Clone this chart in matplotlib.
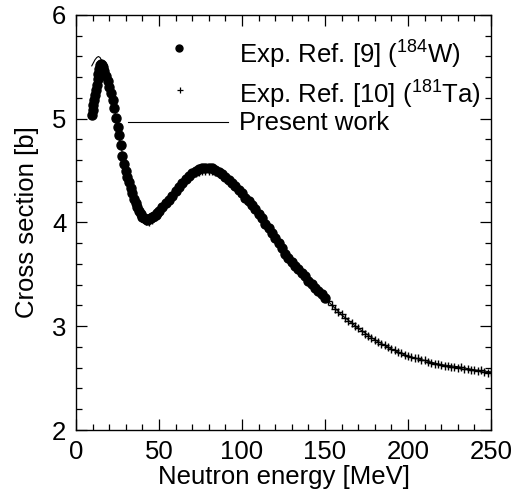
import matplotlib
matplotlib.use("Agg")
import matplotlib.pyplot as plt
from matplotlib.ticker import MultipleLocator

plt.rcParams['font.family'] = ['Liberation Sans', 'DejaVu Sans']
plt.rcParams['mathtext.fontset'] = 'custom'
plt.rcParams['mathtext.rm'] = 'Liberation Sans'

# Exp. Ref. [9] (184W)
w_energy = [9.5, 10, 10.5, 11, 11.5, 12, 12.5, 13, 13.5, 14, 14.5, 15, 15.5, 16,
            17, 18, 19, 20, 21, 22, 23, 24, 25, 26, 27, 28, 29, 30, 31, 32, 33, 34,
            35, 36, 37, 38, 39, 40, 41, 42, 43, 44, 45, 46, 47, 48, 49, 50,
            52, 54, 56, 58, 60, 62, 64, 66, 68, 70, 72, 74, 76, 78, 80, 82, 84, 86,
            88, 90, 92, 94, 96, 98, 100, 102, 104, 106, 108, 110, 112, 114, 116,
            118, 120, 122, 124, 126, 128, 130, 132, 134, 136, 138, 140, 142, 144,
            146, 148, 150]
w_xs = [5.04, 5.08, 5.13, 5.18, 5.23, 5.28, 5.33, 5.38, 5.43, 5.48, 5.52, 5.53, 5.52, 5.50,
        5.46, 5.41, 5.36, 5.31, 5.25, 5.18, 5.10, 5.01, 4.92, 4.84, 4.75, 4.64, 4.56, 4.50,
        4.44, 4.39, 4.33, 4.28, 4.23, 4.19, 4.15, 4.11, 4.08, 4.05, 4.04, 4.03, 4.02, 4.03,
        4.04, 4.05, 4.06, 4.07, 4.09, 4.11,
        4.15, 4.19, 4.22, 4.26, 4.30, 4.34, 4.38, 4.42, 4.45, 4.48, 4.50, 4.52, 4.525, 4.53,
        4.53, 4.525, 4.51, 4.49, 4.47, 4.44, 4.41, 4.38, 4.35, 4.31, 4.28, 4.24, 4.21, 4.17,
        4.13, 4.08, 4.04, 3.99, 3.95, 3.90, 3.85, 3.80, 3.75, 3.70, 3.66, 3.62, 3.58, 3.55,
        3.51, 3.48, 3.44, 3.41, 3.37, 3.34, 3.31, 3.27]

# Exp. Ref. [10] (181Ta)
ta_energy = list(range(20, 252, 2))
ta_xs = [5.30, 5.16, 4.99, 4.82, 4.63, 4.49, 4.38, 4.27, 4.18, 4.10, 4.04, 4.01, 4.00,
         4.02, 4.05, 4.09, 4.13, 4.17, 4.21, 4.24, 4.28, 4.32, 4.36, 4.40, 4.43, 4.46,
         4.48, 4.49, 4.50, 4.50, 4.50, 4.50, 4.49, 4.47, 4.45, 4.42, 4.39, 4.36, 4.33,
         4.29, 4.26, 4.22, 4.19, 4.15, 4.11, 4.07, 4.02, 3.98, 3.93, 3.88, 3.84, 3.79,
         3.74, 3.69, 3.65, 3.61, 3.57, 3.54, 3.50, 3.47, 3.43, 3.40, 3.36, 3.33, 3.30,
         3.27, 3.24, 3.20, 3.17, 3.14, 3.12, 3.08, 3.05, 3.03, 3.00, 2.98, 2.95, 2.93,
         2.91, 2.89, 2.87, 2.85, 2.83, 2.82, 2.80, 2.78, 2.77, 2.75, 2.74, 2.72, 2.71,
         2.70, 2.69, 2.69, 2.67, 2.67, 2.66, 2.65, 2.64, 2.64, 2.63, 2.62, 2.62, 2.61,
         2.61, 2.60, 2.61, 2.59, 2.59, 2.58, 2.58, 2.57, 2.58, 2.56, 2.55, 2.56]

# Present work
calc_energy = [9.5, 10.5, 11.5, 12.5, 13.5, 14.5, 15.5, 17, 20, 22.5, 25, 27.5, 30, 32.5,
               35, 37.5, 40, 42.5, 45, 50, 55, 60, 65, 70, 75, 80, 85, 90, 95, 100, 110,
               120, 130, 140, 150, 160, 170, 180, 190, 200, 210, 220, 230, 240, 250]
calc_xs = [5.51, 5.54, 5.57, 5.59, 5.60, 5.59, 5.56, 5.49, 5.34, 5.15, 4.93, 4.70, 4.51,
           4.37, 4.24, 4.14, 4.07, 4.04, 4.04, 4.10, 4.20, 4.30, 4.40, 4.47, 4.51, 4.52,
           4.50, 4.44, 4.36, 4.27, 4.07, 3.85, 3.63, 3.44, 3.27, 3.11, 2.98, 2.87, 2.78,
           2.71, 2.67, 2.63, 2.61, 2.58, 2.56]

labels = [r"Exp. Ref. [9] ($^{184}$W)", r"Exp. Ref. [10] ($^{181}$Ta)", "Present work"]

fig = plt.figure(figsize=(5.13, 4.93), dpi=100)
ax = fig.add_axes([76/513, 1-430/493, 415/513, 415/493])

ax.plot(calc_energy, calc_xs, color='black', lw=0.8, zorder=1)
ax.plot(ta_energy, ta_xs, ls='none', marker='+', ms=5.5, mew=1.0, color='black', zorder=2)
ax.plot(w_energy, w_xs, ls='none', marker='o', ms=6.5, color='black', zorder=3)

ax.set_xlim(0, 250)
ax.set_ylim(2, 6)
ax.xaxis.set_major_locator(MultipleLocator(50))
ax.xaxis.set_minor_locator(MultipleLocator(10))
ax.yaxis.set_major_locator(MultipleLocator(1))
ax.yaxis.set_minor_locator(MultipleLocator(0.2))
ax.tick_params(which='both', direction='in', top=True, right=True, width=0.9,
               labelsize=18.5, colors='black')
ax.tick_params(which='major', length=8, pad=7)
ax.tick_params(which='minor', length=4.5)
for s in ax.spines.values():
    s.set_linewidth(1.0)

ax.set_xlabel("Neutron energy [MeV]", fontsize=18.5, labelpad=1)
ax.set_ylabel("Cross section [b]", fontsize=18.5, labelpad=9)

# legend drawn by hand
T = ax.transAxes
ax.plot([0.248], [0.920], marker='o', ms=5, color='black', transform=T, clip_on=False)
ax.plot([0.251], [0.819], marker='+', ms=4.5, mew=0.9, color='black', transform=T, clip_on=False)
ax.plot([0.125, 0.366], [0.742, 0.742], color='black', lw=0.8, transform=T)
for yy, lab in zip([0.906, 0.810, 0.740], labels):
    ax.text(0.393, yy, lab, transform=T, fontsize=18.5, va='center', ha='left')

fig.savefig("out.png", dpi=100)
